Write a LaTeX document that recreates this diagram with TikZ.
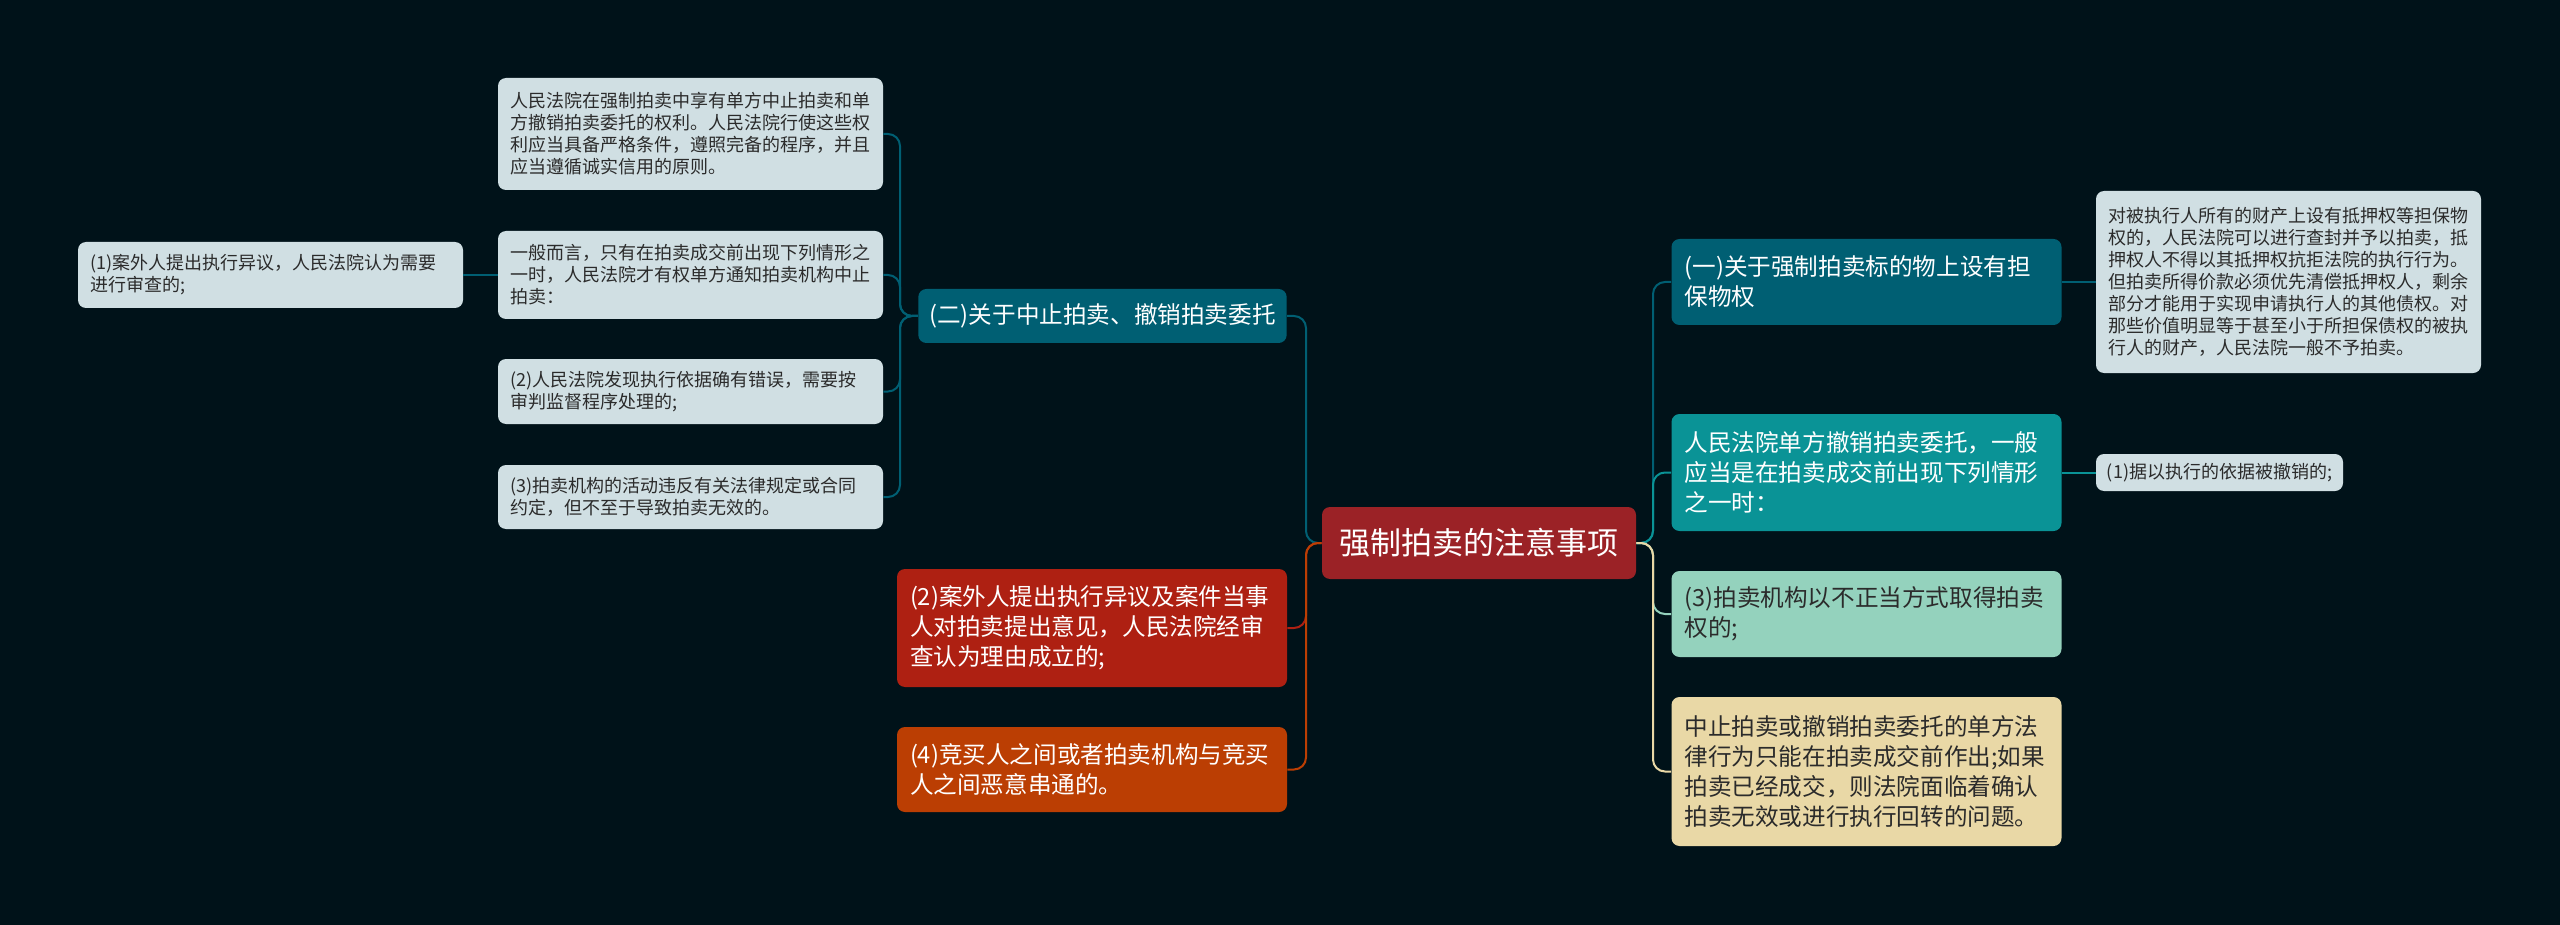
\documentclass[tikz,border=0pt]{standalone}
\usepackage{fontspec}
\setmainfont{Noto Sans CJK SC}
\definecolor{bgcol}{HTML}{001219}
\definecolor{darkteal}{HTML}{005F73}
\definecolor{teal2}{HTML}{0A9396}
\definecolor{mint}{HTML}{94D2BD}
\definecolor{beige}{HTML}{E9D8A6}
\definecolor{rust}{HTML}{BB3E03}
\definecolor{redbox}{HTML}{AE2012}
\definecolor{rootred}{HTML}{9B2226}
\definecolor{leafcol}{HTML}{D0DFE3}
\definecolor{leaftext}{HTML}{2B2B2B}

\begin{document}
\begin{tikzpicture}[x=0.5pt,y=-0.5pt,
    rootbox/.style={fill=rootred, text=white, rounded corners=4pt, minimum width=157pt, minimum height=36pt, font=\fontsize{15.5}{18}\selectfont},
    mainbox/.style={rounded corners=4pt, inner xsep=6.5pt, text width=182pt, align=left, font=\fontsize{11.8}{15}\selectfont},
    leafbox/.style={fill=leafcol, text=leaftext, rounded corners=4pt, inner xsep=6pt, text width=180.5pt, align=left, font=\fontsize{9}{11}\selectfont},
    link/.style={line width=1pt, rounded corners=6pt}]
\fill[bgcol] (0,0) rectangle (2560,925);

\node[rootbox] (root) at (1479,543) {强制拍卖的注意事项};
\coordinate (lt) at (1306,543);
\coordinate (rt) at (1653,543);

% left side
\node[mainbox, fill=darkteal, text=white, text width=, inner xsep=5.5pt, minimum height=27pt] (n2) at (1102.5,316) {(二)关于中止拍卖、撤销拍卖委托};
\node[mainbox, fill=redbox, text=white, minimum height=59pt] (n3) at (1092,628) {(2)案外人提出执行异议及案件当事\\人对拍卖提出意见，人民法院经审\\查认为理由成立的;};
\node[mainbox, fill=rust, text=white, minimum height=42.5pt] (n4) at (1092,769.5) {(4)竞买人之间或者拍卖机构与竞买\\人之间恶意串通的。};

\coordinate (n2t) at (900,316);
\node[leafbox, minimum height=56pt] (l1) at (690.5,134) {人民法院在强制拍卖中享有单方中止拍卖和单\\方撤销拍卖委托的权利。人民法院行使这些权\\利应当具备严格条件，遵照完备的程序，并且\\应当遵循诚实信用的原则。};
\node[leafbox, minimum height=44pt] (l2) at (690.5,275) {一般而言，只有在拍卖成交前出现下列情形之\\一时，人民法院才有权单方通知拍卖机构中止\\拍卖：};
\node[leafbox, minimum height=32.5pt] (l3) at (690.5,391.5) {(2)人民法院发现执行依据确有错误，需要按\\审判监督程序处理的;};
\node[leafbox, minimum height=32pt] (l4) at (690.5,497) {(3)拍卖机构的活动违反有关法律规定或合同\\约定，但不至于导致拍卖无效的。};
\node[leafbox, minimum height=33pt] (l0) at (270.5,275) {(1)案外人提出执行异议，人民法院认为需要\\进行审查的;};

% right side
\node[mainbox, fill=darkteal, text=white, minimum height=43pt] (r1) at (1866.5,282) {(一)关于强制拍卖标的物上设有担\\保物权};
\node[mainbox, fill=teal2, text=white, minimum height=58.5pt] (r2) at (1866.5,472.5) {人民法院单方撤销拍卖委托，一般\\应当是在拍卖成交前出现下列情形\\之一时：};
\node[mainbox, fill=mint, text=leaftext, minimum height=43pt] (r3) at (1866.5,614) {(3)拍卖机构以不正当方式取得拍卖\\权的;};
\node[mainbox, fill=beige, text=leaftext, minimum height=74.5pt] (r4) at (1866.5,771.5) {中止拍卖或撤销拍卖委托的单方法\\律行为只能在拍卖成交前作出;如果\\拍卖已经成交，则法院面临着确认\\拍卖无效或进行执行回转的问题。};
\node[leafbox, minimum height=91pt] (r1a) at (2288.5,282) {对被执行人所有的财产上设有抵押权等担保物\\权的，人民法院可以进行查封并予以拍卖，抵\\押权人不得以其抵押权抗拒法院的执行行为。\\但拍卖所得价款必须优先清偿抵押权人，剩余\\部分才能用于实现申请执行人的其他债权。对\\那些价值明显等于甚至小于所担保债权的被执\\行人的财产，人民法院一般不予拍卖。};
\node[leafbox, text width=, inner xsep=3.75pt, minimum width=123.5pt, minimum height=18.5pt] (r2a) at (2219.5,472.5) {(1)据以执行的依据被撤销的;};

% links
\draw[link, darkteal] (root.west) -- (lt) |- (n2.east);
\draw[link, redbox] (root.west) -- (lt) |- (n3.east);
\draw[link, rust] (root.west) -- (lt) |- (n4.east);
\draw[link, darkteal] (n2.west) -- (n2t) |- (l1.east);
\draw[link, darkteal] (n2.west) -- (n2t) |- (l2.east);
\draw[link, darkteal] (n2.west) -- (n2t) |- (l3.east);
\draw[link, darkteal] (n2.west) -- (n2t) |- (l4.east);
\draw[link, darkteal] (l2.west) -- (l0.east);
\draw[link, darkteal] (root.east) -- (rt) |- (r1.west);
\draw[link, teal2] (root.east) -- (rt) |- (r2.west);
\draw[link, mint] (root.east) -- (rt) |- (r3.west);
\draw[link, beige] (root.east) -- (rt) |- (r4.west);
\draw[link, darkteal] (r1.east) -- (r1a.west);
\draw[link, teal2] (r2.east) -- (r2a.west);
\end{tikzpicture}
\end{document}
